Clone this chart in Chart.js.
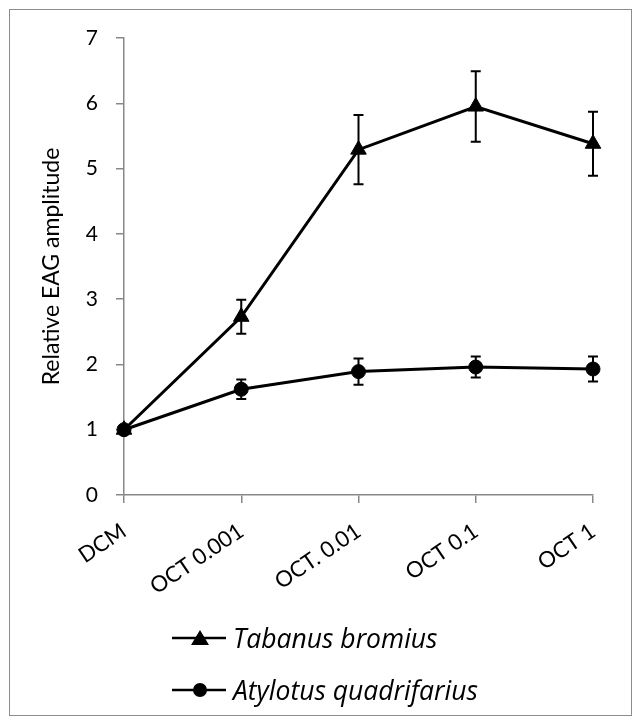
<!DOCTYPE html>
<html>
<head>
<meta charset="utf-8">
<script src="https://cdn.jsdelivr.net/npm/chart.js@4"></script>
<style>
  html, body { margin: 0; padding: 0; background: #fff; }
  #wrap { position: relative; width: 642px; height: 725px; }
  #frame { position: absolute; left: 9px; top: 9px; width: 623px; height: 707px; border: 1px solid #8c8c8c; box-sizing: border-box; }
  #c { position: absolute; left: 0; top: 0; }
  .leg { position: absolute; left: 171px; height: 40px; font-family: "Open Sans", Lato, sans-serif; font-style: italic; font-size: 26.5px; color: #000; display: flex; align-items: center; white-space: nowrap; }
  .leg canvas { margin-right: 6px; }
</style>
</head>
<body>
<div id="wrap">
  <div id="frame"></div>
  <canvas id="c" width="642" height="725"></canvas>
  <div class="leg" id="leg1" style="top:618px"></div>
  <div class="leg" id="leg2" style="top:670px"></div>
</div>
<script>
const categories = ['DCM', 'OCT 0.001', 'OCT. 0.01', 'OCT 0.1', 'OCT 1'];
const tabanus = [1, 2.73, 5.29, 5.95, 5.38];
const tabanusErr = [0, 0.26, 0.53, 0.54, 0.49];
const atylotus = [1, 1.62, 1.89, 1.96, 1.93];
const atylotusErr = [0, 0.15, 0.20, 0.16, 0.19];
const yTicks = [0, 1, 2, 3, 4, 5, 6, 7];
const seriesNames = ['Tabanus bromius', 'Atylotus quadrifarius'];

const errorBars = {
  id: 'errorBars',
  beforeDatasetsDraw(chart) {
    const ctx = chart.ctx;
    const y = chart.scales.y;
    const errs = [tabanusErr, atylotusErr];
    chart.data.datasets.forEach((ds, di) => {
      const meta = chart.getDatasetMeta(di);
      meta.data.forEach((pt, i) => {
        const e = errs[di][i];
        if (!e) return;
        const v = ds.data[i];
        const top = y.getPixelForValue(v + e);
        const bot = y.getPixelForValue(v - e);
        ctx.save();
        ctx.strokeStyle = '#000';
        ctx.lineWidth = 2;
        ctx.beginPath();
        ctx.moveTo(pt.x, top); ctx.lineTo(pt.x, bot);
        ctx.moveTo(pt.x - 5, top); ctx.lineTo(pt.x + 5, top);
        ctx.moveTo(pt.x - 5, bot); ctx.lineTo(pt.x + 5, bot);
        ctx.stroke();
        ctx.restore();
      });
    });
  }
};

new Chart(document.getElementById('c'), {
  type: 'line',
  data: {
    labels: categories,
    datasets: [
      { label: seriesNames[0], data: tabanus, borderColor: '#000', backgroundColor: '#000', borderWidth: 3,
        pointStyle: 'triangle', pointRadius: 9, pointBorderWidth: 1, tension: 0, order: 2 },
      { label: seriesNames[1], data: atylotus, borderColor: '#000', backgroundColor: '#000', borderWidth: 3,
        pointStyle: 'circle', pointRadius: 7, pointBorderWidth: 1, tension: 0, order: 1 }
    ]
  },
  options: {
    responsive: false,
    animation: false,
    layout: { padding: { left: 38, top: 38, right: 49, bottom: 10 } },
    plugins: { legend: { display: false }, tooltip: { enabled: false } },
    scales: {
      x: {
        type: 'category',
        offset: false,
        afterFit(s) { s.height = 725 - 495 - 10; },
        grid: { drawOnChartArea: false, drawTicks: true, tickLength: 8, color: '#888', lineWidth: 1.5 },
        border: { color: '#888', width: 1.5 },
        ticks: { color: '#000', font: { family: 'Lato', size: 22 }, minRotation: 34, maxRotation: 34, padding: 15, autoSkip: false }
      },
      y: {
        min: 0, max: 7,
        afterFit(s) { s.width = 124 - 38; },
        afterBuildTicks(s) { s.ticks = yTicks.map(v => ({ value: v })); },
        grid: { drawOnChartArea: false, drawTicks: true, tickLength: 8, color: '#888', lineWidth: 1.5 },
        border: { color: '#888', width: 1.5 },
        ticks: { color: '#000', font: { family: 'Lato', size: 21 }, padding: 18 },
        title: { display: true, text: 'Relative EAG amplitude', color: '#000', font: { family: 'Lato', size: 23 }, padding: { top: 0, bottom: 0 } }
      }
    }
  },
  plugins: [errorBars]
});

function legendIcon(style) {
  const cv = document.createElement('canvas');
  cv.width = 56; cv.height = 22;
  const g = cv.getContext('2d');
  g.strokeStyle = '#000'; g.fillStyle = '#000'; g.lineWidth = 2.5;
  g.beginPath(); g.moveTo(1, 11); g.lineTo(55, 11); g.stroke();
  g.beginPath();
  if (style === 'triangle') {
    g.moveTo(29, 3); g.lineTo(38, 18); g.lineTo(20, 18); g.closePath();
  } else {
    g.arc(29, 11, 7, 0, Math.PI * 2);
  }
  g.fill();
  return cv;
}
const l1 = document.getElementById('leg1');
l1.appendChild(legendIcon('triangle'));
l1.appendChild(document.createTextNode(seriesNames[0]));
const l2 = document.getElementById('leg2');
l2.appendChild(legendIcon('circle'));
l2.appendChild(document.createTextNode(seriesNames[1]));
</script>
</body>
</html>
